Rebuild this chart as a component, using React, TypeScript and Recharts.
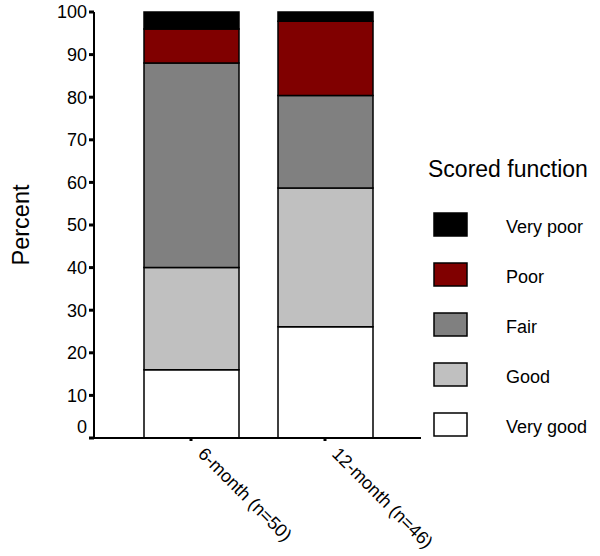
import React from 'react';
import { BarChart, Bar, XAxis, YAxis, Legend } from 'recharts';

const categories = ['6-month (n=50)', '12-month (n=46)'];
const veryGood = [16, 26.1];
const good = [24, 32.6];
const fair = [48, 21.7];
const poor = [8, 17.4];
const veryPoor = [4, 2.2];
const seriesKeys = ['veryGood', 'good', 'fair', 'poor', 'veryPoor'];
const seriesNames = ['Very good', 'Good', 'Fair', 'Poor', 'Very poor'];
const seriesColors = ['#ffffff', '#c0c0c0', '#808080', '#800000', '#000000'];
const yTicks = [0, 10, 20, 30, 40, 50, 60, 70, 80, 90, 100];
const legendTitle = 'Scored function';
const yLabel = 'Percent';

const seriesValues = [veryGood, good, fair, poor, veryPoor];
const data = categories.map((cat, i) => {
  const row: any = { cat };
  seriesKeys.forEach((k, j) => {
    row[k] = seriesValues[j][i];
  });
  return row;
});

const FONT = '"Liberation Sans", Arial, sans-serif';

const XTick = (props: any) => {
  const { x, y, payload } = props;
  return (
    <text
      transform={`translate(${x + 6},${y + 12}) rotate(45)`}
      textAnchor="start"
      fontSize={18}
      fontFamily={FONT}
      fill="#000"
    >
      {payload.value}
    </text>
  );
};

const YTick = (props: any) => {
  const { x, y, payload } = props;
  const shift = payload.value === 0 ? -11 : 0;
  return (
    <text
      x={x}
      y={y + shift}
      dy="0.355em"
      textAnchor="end"
      fontSize={18}
      fontFamily={FONT}
      fill="#000"
    >
      {payload.value}
    </text>
  );
};

const LegendContent = () => {
  const order = [4, 3, 2, 1, 0];
  return (
    <svg width={180} height={300} style={{ display: 'block', overflow: 'visible' }}>
      <text x={8} y={27} fontSize={23} fontFamily={FONT} fill="#000">
        {legendTitle}
      </text>
      {order.map((j, i) => (
        <g key={j}>
          <rect
            x={14}
            y={63 + i * 50}
            width={33}
            height={23}
            fill={seriesColors[j]}
            stroke="#000"
            strokeWidth={1.5}
          />
          <text
            x={86}
            y={77 + i * 50}
            dy="0.355em"
            fontSize={18}
            fontFamily={FONT}
            fill="#000"
          >
            {seriesNames[j]}
          </text>
        </g>
      ))}
    </svg>
  );
};

export default function App() {
  return (
    <div style={{ position: 'absolute', left: 0, top: 0, width: 600, height: 556, background: '#fff' }}>
      <BarChart
        width={600}
        height={556}
        data={data}
        margin={{ top: 12, right: 179, bottom: 0, left: 0 }}
        style={{ fontFamily: FONT }}
      >
        <XAxis
          dataKey="cat"
          height={118}
          padding={{ left: 30, right: 29 }}
          tick={<XTick />}
          tickSize={3}
          tickLine={{ stroke: '#000', strokeWidth: 3 }}
          axisLine={{ stroke: '#000', strokeWidth: 2 }}
          interval={0}
        />
        <XAxis
          xAxisId="top"
          dataKey="cat"
          orientation="top"
          height={0}
          tick={false}
          tickLine={false}
          axisLine={{ stroke: '#222', strokeWidth: 1.5 }}
        />
        <YAxis
          width={94}
          domain={[0, 100]}
          ticks={yTicks}
          interval={0}
          tickSize={5}
          tickMargin={2}
          tick={<YTick />}
          tickLine={{ stroke: '#000', strokeWidth: 3 }}
          axisLine={{ stroke: '#000', strokeWidth: 2 }}
          label={{
            value: yLabel,
            angle: -90,
            position: 'insideLeft',
            offset: 21,
            style: { fontSize: 23.5, fill: '#000', fontFamily: FONT, textAnchor: 'middle' },
          }}
        />
        <YAxis
          yAxisId="right"
          orientation="right"
          width={0}
          domain={[0, 100]}
          tick={false}
          tickLine={false}
          axisLine={{ stroke: '#222', strokeWidth: 1.5 }}
        />
        <Legend
          content={<LegendContent />}
          wrapperStyle={{ position: 'absolute', left: 420, top: 150, width: 0, height: 0, overflow: 'visible' }}
        />
        {seriesKeys.map((k, j) => (
          <Bar
            key={k}
            dataKey={k}
            name={seriesNames[j]}
            stackId="a"
            barSize={95}
            fill={seriesColors[j]}
            stroke="#000"
            strokeWidth={1.5}
            isAnimationActive={false}
          />
        ))}
      </BarChart>
    </div>
  );
}
